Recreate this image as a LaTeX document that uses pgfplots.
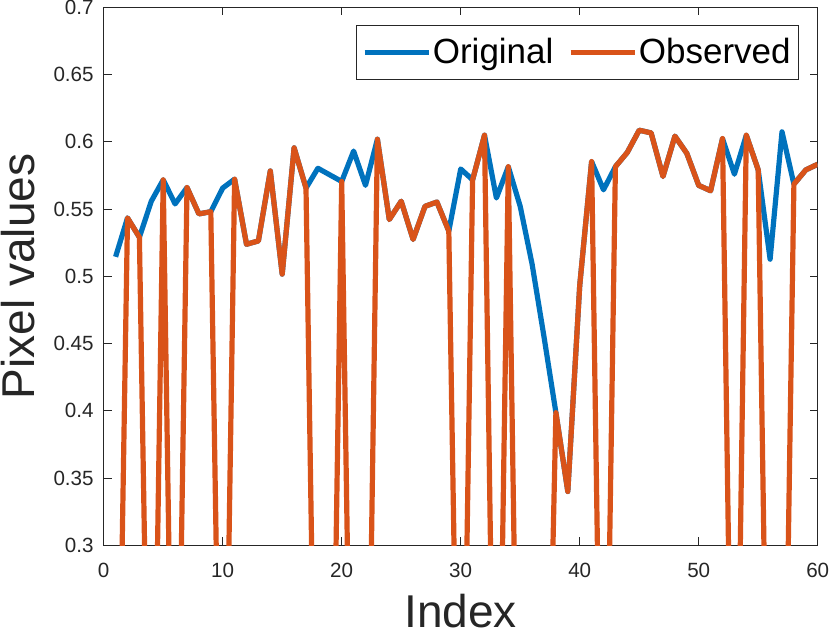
\documentclass[border=0pt]{standalone}
\usepackage{fontspec}
\setmainfont{Liberation Sans}
\usepackage{pgfplots}
\pgfplotsset{compat=1.18}
\definecolor{mblue}{rgb}{0,0.447,0.741}
\definecolor{morange}{rgb}{0.85,0.325,0.098}
\definecolor{axgray}{rgb}{0.15,0.15,0.15}

\pgfplotstableread{
i orig obs
1 0.5145 0
2 0.5434 0.5434
3 0.529 0.529
4 0.5558 0
5 0.5717 0.5717
6 0.5538 0
7 0.566 0.566
8 0.5464 0.5464
9 0.548 0.548
10 0.5656 0
11 0.5722 0.5722
12 0.5238 0.5238
13 0.5263 0.5263
14 0.5783 0.5783
15 0.5016 0.5016
16 0.5955 0.5955
17 0.5656 0.5656
18 0.5803 0
19 0.5754 0
20 0.5705 0.5705
21 0.5931 0
22 0.5676 0
23 0.6019 0.6019
24 0.5422 0.5422
25 0.5558 0.5558
26 0.5274 0.5274
27 0.552 0.552
28 0.5552 0.5552
29 0.5336 0.5336
30 0.5798 0
31 0.5717 0.5717
32 0.6049 0.6049
33 0.5582 0
34 0.5815 0.5815
35 0.552 0
36 0.509 0
37 0.455 0
38 0.3986 0.3986
39 0.3400 0.3400
40 0.4930 0.4930
41 0.5853 0.5853
42 0.5643 0
43 0.5815 0.5815
44 0.5921 0.5921
45 0.6086 0.6086
46 0.6066 0.6066
47 0.5742 0.5742
48 0.6042 0.6042
49 0.5914 0.5914
50 0.5676 0.5676
51 0.5636 0.5636
52 0.6024 0.6024
53 0.5759 0
54 0.6049 0.6049
55 0.5791 0.5791
56 0.5127 0
57 0.6074 0
58 0.5685 0.5685
59 0.5791 0.5791
60 0.5833 0.5833
}\datatable

\begin{document}
\begin{tikzpicture}
\begin{axis}[
  width=357pt, height=269pt, scale only axis,
  xmin=0, xmax=60, ymin=0.3, ymax=0.7,
  xtick={0,10,20,30,40,50,60},
  xticklabels={0,10,20,30,40,50,60},
  ytick={0.3,0.35,0.4,0.45,0.5,0.55,0.6,0.65,0.7},
  yticklabels={0.3,0.35,0.4,0.45,0.5,0.55,0.6,0.65,0.7},
  tick align=inside, major tick length=4pt,
  tick style={axgray, line width=0.5pt},
  axis line style={axgray, line width=0.5pt},
  tick label style={font=\fontsize{10.3}{12}\selectfont, text=axgray, inner sep=0pt},
  xticklabel style={yshift=-8.5pt},
  yticklabel style={xshift=-4.85pt},
  label style={font=\fontsize{23}{27}\selectfont, text=axgray, inner sep=0pt},
  xlabel={Index}, ylabel={Pixel values},
  xlabel style={at={([yshift=-24pt]axis description cs:0.5,0)}, anchor=north},
  ylabel style={at={([xshift=-34pt]axis description cs:0,0.5)}, anchor=south, rotate=0},
  legend columns=2,
  legend style={at={([xshift=-9.5pt,yshift=-8.9pt]axis description cs:1,1)}, anchor=north east,
    draw=axgray, line width=0.5pt, font=\fontsize{17.5}{21}\selectfont,
    inner xsep=3pt, inner ysep=5.5pt, nodes={inner sep=0.8pt},
    /tikz/every even column/.append style={column sep=6.5pt}},
  legend image code/.code={\draw[#1, line width=2.6pt] (0pt,0pt) -- (32pt,0pt);},
]
\addplot[mblue, line width=2.6pt, line join=round] table[x=i, y=orig] {\datatable};
\addlegendentry{Original}
\addplot[morange, line width=2.6pt, line join=round] table[x=i, y=obs] {\datatable};
\addlegendentry{Observed}
\end{axis}
\pgfresetboundingbox
\useasboundingbox ([shift={(-51.85pt,-46pt)}]current axis.south west) rectangle ([shift={(6.15pt,3.65pt)}]current axis.north east);
\end{tikzpicture}
\end{document}
